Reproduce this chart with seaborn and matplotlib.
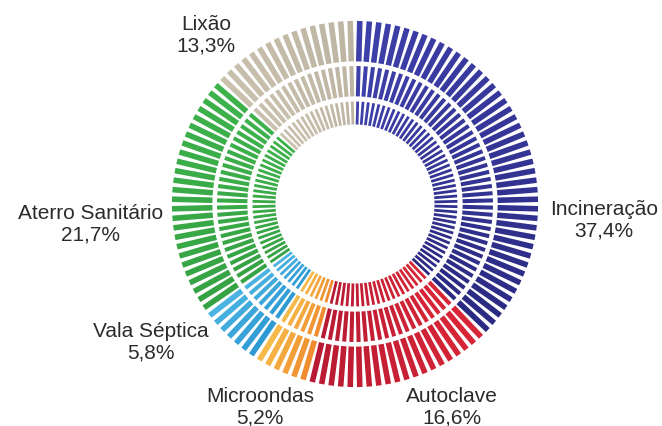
import numpy as np
import pandas as pd
import matplotlib
matplotlib.use("Agg")
import matplotlib.pyplot as plt
from matplotlib.colors import to_rgb
import seaborn as sns

# Destination of health-service waste (share of total, %)
categories = ["Incineração", "Autoclave", "Microondas", "Vala Séptica",
              "Aterro Sanitário", "Lixão"]
shares = [37.4, 16.6, 5.2, 5.8, 21.7, 13.3]
share_labels = ["37,4%", "16,6%", "5,2%", "5,8%", "21,7%", "13,3%"]

# two shades per category: start and end of the clockwise run
shade_start = ["#3e40aa", "#d92636", "#ef8d2e", "#2e9ad4", "#35a243", "#c9c0ad"]
shade_end = ["#2b2a82", "#b81a33", "#f6ba4a", "#4ab3e2", "#3db24b", "#bdb4a2"]

N_TICKS = 120
RINGS = [(0.775, 0.995, 4.0), (0.585, 0.750, 2.9), (0.432, 0.557, 2.0)]

sns.set_theme(style="white")
plt.rcParams["font.family"] = ["Liberation Sans", "DejaVu Sans"]
plt.rcParams["lines.solid_capstyle"] = "butt"

# assign each radial tick to a category by cumulative share
step = 2 * np.pi / N_TICKS
theta = (np.arange(N_TICKS) + 0.5) * step
frac = (np.arange(N_TICKS) + 0.5) / N_TICKS * 100
bounds = np.cumsum(shares)
cat_idx = np.searchsorted(bounds, frac)

colors = {}
for i in range(N_TICKS):
    c = cat_idx[i]
    members = np.where(cat_idx == c)[0]
    t = 0.0 if len(members) == 1 else (i - members[0]) / (len(members) - 1)
    a, b = np.array(to_rgb(shade_start[c])), np.array(to_rgb(shade_end[c]))
    colors[i] = tuple(a + (b - a) * t)

fig = plt.figure(figsize=(6.62, 4.27), dpi=100)
W, H = 662, 427
cx, cy, R = 355, 205, 184
ax = fig.add_axes([(cx - R) / W, (H - cy - R) / H, 2 * R / W, 2 * R / H],
                  projection="polar")
ax.set_theta_zero_location("N")
ax.set_theta_direction(-1)

for r0, r1, lw in RINGS:
    rows = []
    for i in range(N_TICKS):
        rows.append({"tick": i, "theta": theta[i], "r": r0,
                     "categoria": categories[cat_idx[i]]})
        rows.append({"tick": i, "theta": theta[i], "r": r1,
                     "categoria": categories[cat_idx[i]]})
    df = pd.DataFrame(rows)
    sns.lineplot(data=df, x="theta", y="r", units="tick", hue="tick",
                 palette=colors, estimator=None, sort=False, legend=False,
                 linewidth=lw, solid_capstyle="butt", ax=ax)

ax.set_ylim(0, 1.0)
ax.set_xlabel("")
ax.set_ylabel("")
ax.set_xticks([])
ax.set_yticks([])
ax.grid(False)
ax.spines["polar"].set_visible(False)
ax.set_facecolor("white")

label_pos = {
    "Incineração": (604, 220),
    "Autoclave": (452, 407),
    "Microondas": (260, 407),
    "Vala Séptica": (151, 342),
    "Aterro Sanitário": (91, 224),
    "Lixão": (206, 35),
}
for name, pct in zip(categories, share_labels):
    x, y = label_pos[name]
    fig.text(x / W, 1 - y / H, f"{name}\n{pct}", ha="center", va="center",
             multialignment="center", fontsize=15, color="#2b2b2b",
             linespacing=1.15)

fig.savefig("out.png", dpi=100, facecolor="white")
